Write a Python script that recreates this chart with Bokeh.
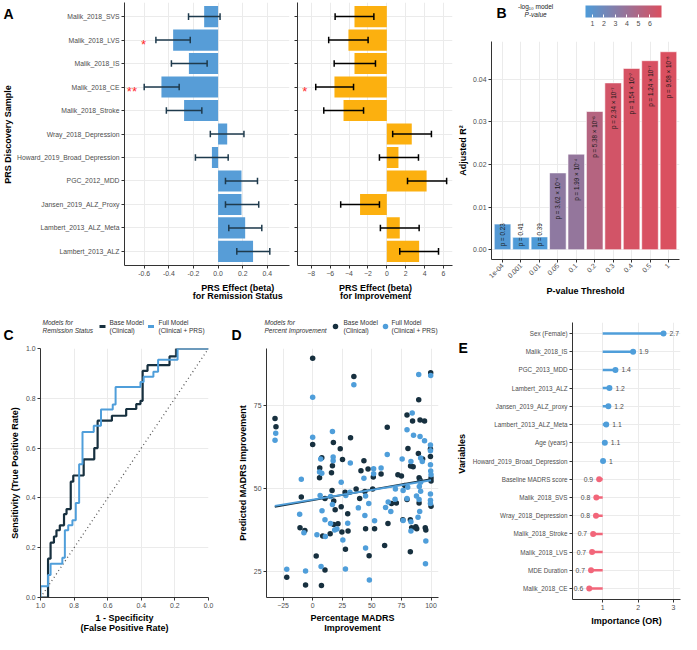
import numpy as np
from bokeh.plotting import figure
from bokeh.models import (Range1d, FixedTicker, PrintfTickFormatter, ColorBar, LinearColorMapper,
                          ColumnDataSource)
from bokeh.core.properties import value
from bokeh.layouts import row, column
from bokeh.embed import file_html
from bokeh.resources import INLINE

FONT = "Liberation Sans"
GRID = "#EBEBEB"
AXIS = "#333333"
TICKC = "#4D4D4D"
BLUE = "#579DD7"
ORANGE = "#FCB00F"
DARK = "#17303F"
LBLUE = "#4F9EDA"
RED = "#F2667A"

# ---------------- Panel A data ----------------
prs_samples = ["Malik_2018_SVS", "Malik_2018_LVS", "Malik_2018_IS", "Malik_2018_CE", "Malik_2018_Stroke",
               "Wray_2018_Depression", "Howard_2019_Broad_Depression", "PGC_2012_MDD",
               "Jansen_2019_ALZ_Proxy", "Lambert_2013_ALZ_Meta", "Lambert_2013_ALZ"]
rem_beta = [-0.113, -0.365, -0.237, -0.46, -0.276, 0.074, -0.05, 0.19, 0.19, 0.22, 0.284]
rem_lo = [-0.24, -0.505, -0.379, -0.60, -0.42, -0.063, -0.184, 0.06, 0.06, 0.087, 0.152]
rem_hi = [0.016, -0.226, -0.089, -0.316, -0.132, 0.21, 0.082, 0.32, 0.33, 0.355, 0.42]
rem_sig = ["", "*", "", "**", "", "", "", "", "", "", ""]
imp_beta = [-3.42, -4.06, -3.42, -5.54, -4.58, 2.64, 1.23, 4.21, -2.83, 1.37, 3.42]
imp_lo = [-5.47, -6.15, -5.57, -7.52, -6.67, 0.62, -0.78, 2.19, -4.88, -0.68, 1.37]
imp_hi = [-1.37, -1.98, -1.20, -3.52, -2.46, 4.72, 3.35, 6.33, -0.78, 3.42, 5.47]
imp_sig = ["", "", "", "*", "", "", "", "", "", "", ""]
rem_ticks = [-0.6, -0.4, -0.2, 0.0, 0.2, 0.4]
imp_ticks = [-8, -6, -4, -2, 0, 2, 4, 6]

# ---------------- Panel B data ----------------
thresholds = ["1e-04", "0.001", "0.01", "0.05", "0.1", "0.2", "0.3", "0.4", "0.5", "1"]
adj_r2 = [0.0060, 0.0029, 0.0030, 0.0180, 0.0224, 0.0324, 0.0391, 0.0425, 0.0443, 0.0464]
model_p = [0.23, 0.41, 0.39, 3.62e-4, 1.99e-4, 5.38e-6, 2.34e-7, 1.54e-7, 1.24e-7, 9.58e-8]
cbar_ticks = [1, 2, 3, 4, 5, 6]

# ---------------- Panel C data (ROC) ----------------
roc_base_spec = [1.0, 0.955, 0.955, 0.94, 0.94, 0.92, 0.92, 0.905, 0.905, 0.885, 0.885, 0.86, 0.86,
                 0.845, 0.845, 0.82, 0.82, 0.805, 0.805, 0.743, 0.743, 0.68, 0.68, 0.66, 0.66, 0.575,
                 0.575, 0.49, 0.49, 0.43, 0.43, 0.405, 0.405, 0.392, 0.392, 0.363, 0.363, 0.232,
                 0.232, 0.192, 0.192, 0.0]
roc_base_sens = [0.0, 0.0, 0.156, 0.156, 0.22, 0.22, 0.245, 0.245, 0.27, 0.27, 0.29, 0.29, 0.335,
                 0.335, 0.355, 0.355, 0.465, 0.465, 0.49, 0.49, 0.555, 0.555, 0.60, 0.60, 0.71, 0.71,
                 0.73, 0.73, 0.757, 0.757, 0.777, 0.777, 0.79, 0.79, 0.91, 0.91, 0.933, 0.933,
                 0.968, 0.968, 1.0, 1.0]
roc_full_spec = [1.0, 1.0, 0.955, 0.955, 0.94, 0.94, 0.87, 0.87, 0.855, 0.855, 0.835, 0.835, 0.81,
                 0.81, 0.79, 0.79, 0.77, 0.77, 0.75, 0.75, 0.683, 0.683, 0.64, 0.64, 0.57, 0.57,
                 0.553, 0.553, 0.405, 0.405, 0.386, 0.386, 0.328, 0.328, 0.30, 0.30, 0.184, 0.184, 0.0]
roc_full_sens = [0.0, 0.045, 0.045, 0.09, 0.09, 0.136, 0.136, 0.16, 0.16, 0.27, 0.27, 0.29, 0.29,
                 0.31, 0.31, 0.38, 0.38, 0.535, 0.535, 0.665, 0.665, 0.69, 0.69, 0.755, 0.755, 0.775,
                 0.775, 0.845, 0.845, 0.865, 0.865, 0.887, 0.887, 0.907, 0.907, 0.955, 0.955, 1.0, 1.0]
chance_x = [1.0, 0.0]
chance_y = [0.0, 1.0]
roc_ticks = [0.0, 0.2, 0.4, 0.6, 0.8, 1.0]

# ---------------- Panel D data ----------------
base_x = [0, 34.8, 99.7, 89.6, -31.8, -31, 79.7, 84.4, 90.7, 94.5, 63, 0, 17.5, 32, 23.3, 99.5, 99.5,
          80.5, 89.3, 92.9, 7.7, 25.2, 43.3, 16.7, 6, 15.9, 40.8, 46.8, 57.8, 51.2, 72, 75, 82.7, 84.9,
          89.9, 90.7, 100, 100, 5.8, 77.8, -9.6, 36.7, 44.1, 50.7, 27.4, 16.4, 10.4, 39.7, 17.8, 19,
          24.1, 29.6, 17.8, 21.4, 24.7, 29.9, 14.8, 8.5, -10.7, -6.6, 44.7, 52.3, 63.6, 66.6, 70.7,
          79.7, 76.2, 82.5, 83.6, 87.1, 87.9, 95.1, 95.6, 100, 89.9, 60.8, 27.7, 82.5, 47.7, 3, -21.9,
          10.4, -6, 7.4]
base_y = [89.4, 83.9, 85, 76.9, 71.2, 68.7, 72.3, 70.5, 70.8, 70.5, 68.6, 63.4, 64, 65.4, 62.1, 62,
          59.8, 62.2, 60.7, 59, 59.4, 58.9, 58.5, 57, 56.3, 54.9, 55.5, 56, 54.5, 53.6, 54.3, 53.9,
          56.9, 56.7, 53.4, 52.7, 53.3, 52.4, 53.4, 51, 47.6, 50, 49.2, 50, 49, 49.5, 47.1, 47.1, 46.4,
          43.7, 44.6, 42.5, 39.3, 39.5, 37, 37.3, 36.5, 35.8, 38.3, 37.5, 38, 38, 39.6, 45.6, 45.8,
          46.8, 40.7, 40.7, 38.3, 38.6, 38, 38.3, 37.6, 44.8, 45.8, 33, 31.8, 31.1, 29.9, 29.8, 23.4,
          25.6, 21.1, 20.9]
full_x = [0, 34.8, 89.6, 99.7, -31.2, -31.8, 84.1, 79.7, 85.2, 90.7, 94.5, 0, 16.7, 99.5, 99.5, 17.3,
          17.3, 31.8, 6.8, 63, 75.6, 83, 91.2, 92.6, 99.5, 99.7, 100, 5.8, 7.7, -9.6, 43.3, 51.5,
          57.8, 51.5, 24.1, 31.5, 69.9, 76.4, 80.3, 90.1, 91.2, 99.5, 99.5, 99.5, 91.2, 15.1, 6.3,
          16.7, 28, 38.6, 44.7, 47.4, 63.8, 61.6, 66, 69.6, 79.7, 87.7, 89.9, 90.4, 89, -11, 7.9,
          10.4, 15.1, 18.6, 20.5, 29.6, 44.1, 52.3, 76.4, 83, 83, -7.4, 3.6, 10.7, 25.5, 44.7, 95.6,
          95.3, 7.1, 27.7, -21.9, -6, 47.9]
full_y = [77.6, 81.4, 84.5, 84.2, 66.8, 64.7, 72.9, 67.8, 66.2, 65.8, 64.5, 65.6, 67.3, 63.2, 61.5,
          59.6, 58.5, 57.8, 59, 60.4, 59, 58.3, 59.3, 58.3, 57.3, 55.4, 54.3, 55.1, 54.7, 52.9, 53.2,
          56.1, 56.3, 54.6, 52, 49, 50, 49.5, 50.5, 50.7, 52, 48.5, 46.6, 45.6, 49.3, 47.7, 48, 45.3,
          48, 44.3, 47.9, 45.6, 46.1, 44.4, 43.2, 46.9, 47.1, 47.9, 46.8, 43.2, 41.5, 42.4, 43.4,
          40.7, 39.6, 37.6, 37.9, 39.7, 42, 40.4, 40.5, 40.1, 37.3, 36.8, 36.2, 35.7, 34.6, 32.2,
          34.3, 27.5, 26.6, 25.9, 25.8, 25.3, 22.6]
fit_x = [-32, 100]
base_fit = [44.6, 52.9]
full_fit = [44.9, 52.6]
d_xticks = [-25, 0, 25, 50, 75, 100]
d_yticks = [25, 50, 75]

# ---------------- Panel E data ----------------
e_vars = ["Sex (Female)", "Malik_2018_IS", "PGC_2013_MDD", "Lambert_2013_ALZ", "Jansen_2019_ALZ_proxy",
          "Lambert_2013_ALZ_Meta", "Age (years)", "Howard_2019_Broad_Depression", "Baseline MADRS score",
          "Malik_2018_SVS", "Wray_2018_Depression", "Malik_2018_Stroke", "Malik_2018_LVS",
          "MDE Duration", "Malik_2018_CE"]
e_or = [2.72, 1.86, 1.36, 1.19, 1.16, 1.10, 1.06, 1.01, 0.90, 0.82, 0.81, 0.73, 0.70, 0.67, 0.62]
e_ticks = [1, 2, 3]

# ---------------- texts ----------------
legend_titles_c = ["Models for", "Remission Status"]
legend_titles_d = ["Models for", "Percent Improvement"]
legend_base = ["Base Model", "(Clinical)"]
legend_full = ["Full Model", "(Clinical + PRS)"]
title_a1 = ["PRS Effect (beta)", "for Remission Status"]
title_a2 = ["PRS Effect (beta)", "for Improvement"]
title_c = ["1 - Specificity", "(False Positive Rate)"]
title_d = ["Percentage MADRS", "Improvement"]


def make_fig(w, h, xr, yr, bl, br, bt, bb):
    p = figure(width=w, height=h, x_range=xr, y_range=yr, output_backend="svg",
               toolbar_location=None, min_border_left=bl, min_border_right=br,
               min_border_top=bt, min_border_bottom=bb)
    p.title.visible = False
    p.outline_line_color = None
    p.xgrid.grid_line_color = GRID
    p.ygrid.grid_line_color = GRID
    for ax in (p.xaxis[0], p.yaxis[0]):
        ax.axis_line_color = AXIS
        ax.axis_line_width = 1
        ax.major_tick_line_color = AXIS
        ax.major_tick_out = 3
        ax.major_tick_in = 0
        ax.minor_tick_line_color = None
        ax.major_label_text_font = FONT
        ax.major_label_text_font_size = "6.9px"
        ax.major_label_text_color = TICKC
        ax.major_label_standoff = 2
        ax.axis_label_text_font = FONT
        ax.axis_label_text_font_size = "9px"
        ax.axis_label_text_font_style = "bold"
        ax.axis_label_text_color = "black"
        ax.axis_label_standoff = 3
    return p


def blank(w, h):
    p = figure(width=w, height=h, x_range=Range1d(0, w), y_range=Range1d(0, h),
               x_axis_location=None, y_axis_location=None, output_backend="svg",
               toolbar_location=None, min_border=0)
    p.title.visible = False
    p.outline_line_color = None
    p.grid.visible = False
    return p


def htext(p, h, x, ydown, text, size, style="normal", align="left", baseline="middle",
          color="black", angle=0.0):
    p.text(x=[x], y=[h - ydown], text=[text], text_font=value(FONT), text_font_size=size,
           text_font_style=style, text_align=align, text_baseline=baseline, text_color=color,
           angle=angle)


def sup(s):
    return s.translate(str.maketrans("-0123456789", "⁻⁰¹²³⁴⁵⁶⁷⁸⁹"))


HT = 304      # top row height
FT = 26       # footer height (top row)
HB = 330      # bottom row height
HH = 39       # header height (bottom row / panel B)
FB = 24       # footer height (bottom row)

# ================= Strip with "A" and y title =================
sA = blank(14, HT)
htext(sA, HT, 3, 13, "A", "14px", style="bold", baseline="alphabetic")
htext(sA, HT, 7.5, 134, "PRS Discovery Sample", "9px", style="bold", align="center", angle=np.pi / 2)

# ================= Panel A (left) =================
n = len(prs_samples)
ypos = [n - i for i in range(n)]
cap = 0.14
pa1 = make_fig(278, HT - FT, Range1d(-0.76, 0.58), Range1d(0.4, n + 0.6), 107, 3, 2, 13)
pa1.yaxis.ticker = FixedTicker(ticks=ypos)
pa1.yaxis.major_label_overrides = {y: s for y, s in zip(ypos, prs_samples)}
pa1.yaxis.major_label_text_font_size = "6.8px"
pa1.xaxis.ticker = FixedTicker(ticks=rem_ticks)
pa1.xaxis.formatter = PrintfTickFormatter(format="%.1f")
srcA1 = ColumnDataSource(dict(y=ypos, b=rem_beta, lo=rem_lo, hi=rem_hi,
                              y0=[y - cap for y in ypos], y1=[y + cap for y in ypos]))
pa1.hbar(y="y", left=0, right="b", height=0.9, source=srcA1, fill_color=BLUE, line_color=None)
for a, b, c, d in (("lo", "y", "hi", "y"), ("lo", "y0", "lo", "y1"), ("hi", "y0", "hi", "y1")):
    pa1.segment(x0=a, y0=b, x1=c, y1=d, source=srcA1, line_color="#1E3A4C", line_width=1.5)
pa1.text(x=[lo - 0.1 for lo, s in zip(rem_lo, rem_sig) if s],
         y=[y for y, s in zip(ypos, rem_sig) if s], text=[s for s in rem_sig if s],
         text_color="#FF2A2A", text_font=value(FONT), text_font_size="13px",
         text_align="center", text_baseline="middle", y_offset=4)
fA1 = blank(278, FT)
for i, t in enumerate(title_a1):
    htext(fA1, FT, 191, 9 + 8.8 * i, t, "9px", style="bold", align="center")

# ================= Panel A (right) =================
pa2 = make_fig(163, HT - FT, Range1d(-9.45, 6.95), Range1d(0.4, n + 0.6), 5, 3, 2, 13)
pa2.yaxis.ticker = FixedTicker(ticks=[], minor_ticks=ypos)
pa2.yaxis.minor_tick_line_color = AXIS
pa2.yaxis.minor_tick_out = 3
pa2.yaxis.minor_tick_in = 0
pa2.ygrid.minor_grid_line_color = GRID
pa2.xaxis.ticker = FixedTicker(ticks=imp_ticks)
srcA2 = ColumnDataSource(dict(y=ypos, b=imp_beta, lo=imp_lo, hi=imp_hi,
                              y0=[y - cap for y in ypos], y1=[y + cap for y in ypos]))
pa2.hbar(y="y", left=0, right="b", height=0.9, source=srcA2, fill_color=ORANGE, line_color=None)
for a, b, c, d in (("lo", "y", "hi", "y"), ("lo", "y0", "lo", "y1"), ("hi", "y0", "hi", "y1")):
    pa2.segment(x0=a, y0=b, x1=c, y1=d, source=srcA2, line_color="black", line_width=1.5)
pa2.text(x=[lo - 1.15 for lo, s in zip(imp_lo, imp_sig) if s],
         y=[y for y, s in zip(ypos, imp_sig) if s], text=[s for s in imp_sig if s],
         text_color="#FF2A2A", text_font=value(FONT), text_font_size="13px",
         text_align="center", text_baseline="middle", y_offset=4)
fA2 = blank(163, FT)
for i, t in enumerate(title_a2):
    htext(fA2, FT, 82, 9 + 8.8 * i, t, "9px", style="bold", align="center")

# ================= Panel B =================
WB = 226
nb = len(thresholds)
xb = list(range(1, nb + 1))
nlp = [-np.log10(v) for v in model_p]


def p_text(v):
    if v >= 0.01:
        return f"p = {v:.2f}"
    e = int(np.floor(np.log10(v)))
    return f"p = {v / 10 ** e:.2f} × 10" + sup(str(e))


c0 = np.array([78, 155, 216])
c1 = np.array([218, 80, 96])
palette = ["#%02x%02x%02x" % tuple(int(round(c)) for c in (c0 + (c1 - c0) * t))
           for t in np.linspace(0, 1, 256)]
mapper = LinearColorMapper(palette=palette, low=min(nlp), high=max(nlp))

hB = blank(WB, HH)
htext(hB, HH, 6, 12, "B", "14px", style="bold", baseline="alphabetic")
htext(hB, HH, 53, 6, "-log₁₀ model", "6.5px", align="center", color="#222222")
htext(hB, HH, 53, 14, "P-value", "6.5px", style="italic", align="center", color="#222222")
cb = ColorBar(color_mapper=mapper, orientation="horizontal", width=76, height=12,
              ticker=FixedTicker(ticks=cbar_ticks), formatter=PrintfTickFormatter(format="%d"),
              major_label_text_font_size="7px", major_label_text_color=TICKC,
              major_label_text_font=FONT, label_standoff=3, padding=0,
              bar_line_color=None, major_tick_line_color="white", major_tick_in=3,
              major_tick_out=0, border_line_color=None, background_fill_alpha=0,
              location=(94, 11))
hB.add_layout(cb)

big = [r > 0.01 for r in adj_r2]
pb = make_fig(WB, HT - HH, Range1d(0.4, nb + 0.6), Range1d(-0.0023, 0.0488), 36, 2, 2, 45)
pb.xaxis.ticker = FixedTicker(ticks=xb)
pb.xaxis.major_label_overrides = {x: t for x, t in zip(xb, thresholds)}
pb.xaxis.major_label_orientation = np.pi / 4
pb.yaxis.ticker = FixedTicker(ticks=[0.0, 0.01, 0.02, 0.03, 0.04])
pb.yaxis.formatter = PrintfTickFormatter(format="%.2f")
pb.xaxis.axis_label = "P-value Threshold"
pb.yaxis.axis_label = "Adjusted R²"
pb.yaxis.axis_label_standoff = 2
srcB = ColumnDataSource(dict(x=xb, top=adj_r2, nlp=nlp, lab=[p_text(v) for v in model_p],
                             ty=[r - 0.0011 if b else 0.0008 for r, b in zip(adj_r2, big)],
                             al=["right" if b else "left" for b in big]))
pb.vbar(x="x", top="top", width=0.9, source=srcB, fill_color={"field": "nlp", "transform": mapper},
        line_color="white", line_width=0.6)
pb.text(x="x", y="ty", text="lab", text_align="al", source=srcB, angle=np.pi / 2,
        text_baseline="middle", text_font=value(FONT), text_font_size="6.3px", text_color="#1a1a1a")

# ================= Header for C and D (letters + legends) =================
WC, WD = 223, 228
hCD = blank(WC + WD, HH)
htext(hCD, HH, 3, 30, "C", "14px", style="bold", baseline="alphabetic")
htext(hCD, HH, WC + 8, 30, "D", "14px", style="bold", baseline="alphabetic")
for i, t in enumerate(legend_titles_c):
    htext(hCD, HH, 42, 17.5 + 8 * i, t, "6.5px", style="italic", color="#333333")
for i, t in enumerate(legend_titles_d):
    htext(hCD, HH, WC + 41, 17.5 + 8 * i, t, "6.5px", style="italic", color="#333333")
for i, t in enumerate(legend_base):
    htext(hCD, HH, 109, 17.5 + 8 * i, t, "6.5px", color="#333333")
    htext(hCD, HH, WC + 120, 17.5 + 8 * i, t, "6.5px", color="#333333")
for i, t in enumerate(legend_full):
    htext(hCD, HH, 158, 17.5 + 8 * i, t, "6.5px", color="#333333")
    htext(hCD, HH, WC + 168, 17.5 + 8 * i, t, "6.5px", color="#333333")
hCD.segment(x0=[99, 147.5], y0=[HH - 22] * 2, x1=[105, 153.5], y1=[HH - 22] * 2,
            line_color=[DARK, LBLUE], line_width=3)
hCD.scatter(x=[WC + 112, WC + 162], y=[HH - 22] * 2, size=5.5,
            fill_color=[DARK, LBLUE], line_color=None)

# ================= Panel C =================
HM = HB - HH - FB
pc = make_fig(WC, HM, Range1d(1, 0), Range1d(0, 1), 40, 15, 5, 13)
pc.xaxis.ticker = FixedTicker(ticks=roc_ticks)
pc.yaxis.ticker = FixedTicker(ticks=roc_ticks)
pc.xaxis.formatter = PrintfTickFormatter(format="%.1f")
pc.yaxis.formatter = PrintfTickFormatter(format="%.1f")
pc.yaxis.axis_label = "Sensitivity (True Positive Rate)"
pc.line(chance_x, chance_y, line_color="#555555", line_width=1.3, line_dash="1 3")
pc.line(roc_base_spec, roc_base_sens, line_color=DARK, line_width=2.2)
pc.line(roc_full_spec, roc_full_sens, line_color=LBLUE, line_width=2.0)

# ================= Panel D =================
pd_ = make_fig(WD, HM, Range1d(-39, 106.3), Range1d(17.3, 92.3), 43, 13, 5, 13)
pd_.xaxis.ticker = FixedTicker(ticks=d_xticks)
pd_.yaxis.ticker = FixedTicker(ticks=d_yticks)
pd_.yaxis.axis_label = "Predicted MADRS Improvement"
pd_.scatter(base_x, base_y, size=5.5, fill_color=DARK, line_color=None)
pd_.scatter(full_x, full_y, size=5.5, fill_color=LBLUE, line_color=None)
pd_.line(fit_x, base_fit, line_color=DARK, line_width=2)
pd_.line(fit_x, full_fit, line_color=LBLUE, line_width=2)

fCD = blank(WC + WD, FB)
for i, t in enumerate(title_c):
    htext(fCD, FB, 124, 7 + 10.5 * i, t, "9px", style="bold", align="center")
for i, t in enumerate(title_d):
    htext(fCD, FB, WC + 129, 7 + 10.5 * i, t, "9px", style="bold", align="center")

# ================= Panel E =================
sE = blank(18, HB)
htext(sE, HB, 7, 30, "E", "14px", style="bold", baseline="alphabetic")
htext(sE, HB, 10, 18 + 277 / 2, "Variables", "9px", style="bold", align="center", angle=np.pi / 2)
ne = len(e_vars)
epos = [ne - i for i in range(ne)]
pe = make_fig(212, HB, Range1d(0.146, 3.2), Range1d(0.4, ne + 0.6), 100, 1, 18, 35)
pe.yaxis.ticker = FixedTicker(ticks=epos)
pe.yaxis.major_label_overrides = {y: s for y, s in zip(epos, e_vars)}
pe.yaxis.major_label_text_font_size = "6.3px"
pe.xaxis.ticker = FixedTicker(ticks=e_ticks)
pe.xaxis.axis_label = "Importance (OR)"
ecol = [LBLUE if v >= 1 else RED for v in e_or]
srcE = ColumnDataSource(dict(y=epos, v=e_or, c=ecol,
                             lab=[f"{round(v, 1):g}" for v in e_or],
                             tx=[v + 0.17 if v >= 1 else v - 0.17 for v in e_or],
                             al=["left" if v >= 1 else "right" for v in e_or]))
pe.segment(x0=1, y0="y", x1="v", y1="y", line_color="c", line_width=2.5, source=srcE)
pe.scatter(x="v", y="y", fill_color="c", line_color=None, size=6, source=srcE)
pe.text(x="tx", y="y", text="lab", text_align="al", text_baseline="middle", source=srcE,
        text_font=value(FONT), text_font_size="6.8px", text_color="#4D4D4D")

layout = column(
    row(sA, column(pa1, fA1), column(pa2, fA2), column(hB, pb)),
    row(column(hCD, row(pc, pd_), fCD), sE, pe),
)
open("out.html", "w").write(file_html(layout, INLINE))
